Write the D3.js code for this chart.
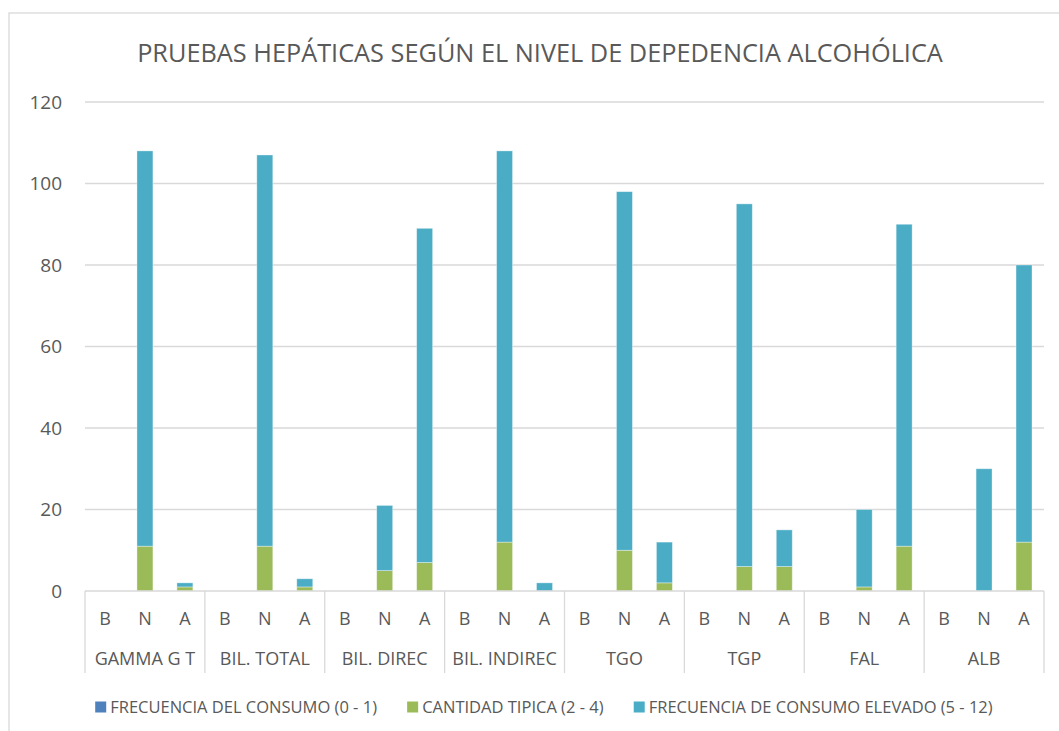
<!DOCTYPE html>
<html>
<head>
<meta charset="utf-8">
<script src="https://cdn.jsdelivr.net/npm/d3@7"></script>
<style>
	body { margin: 0; background: #fff; }
	text { font-family: "Open Sans", sans-serif; fill: #595959; }
</style>
</head>
<body>
<svg id="chart" width="1059" height="731"></svg>
<script>
// categories
var groups = ["GAMMA G T", "BIL. TOTAL", "BIL. DIREC", "BIL. INDIREC", "TGO", "TGP", "FAL", "ALB"];
var levels = ["B", "N", "A"];
var seriesNames = [
	"FRECUENCIA DEL CONSUMO (0 - 1)",
	"CANTIDAD TIPICA (2 - 4)",
	"FRECUENCIA DE CONSUMO ELEVADO (5 - 12)"
];
// values, in group order, B N A per group
var frecConsumo    = [0, 0, 0,  0, 0, 0,  0, 0, 0,   0, 0, 0,   0, 0, 0,   0, 0, 0,   0, 0, 0,   0, 0, 0];
var cantidadTipica = [0, 11, 1, 0, 11, 1, 0, 5, 7,   0, 12, 0,  0, 10, 2,  0, 6, 6,   0, 1, 11,  0, 0, 12];
var consumoElevado = [0, 97, 1, 0, 96, 2, 0, 16, 82, 0, 96, 2,  0, 88, 10, 0, 89, 9,  0, 19, 79, 0, 30, 68];
var yTicks = [0, 20, 40, 60, 80, 100, 120];

var Colors = ["#4F81BD", "#9BBB59", "#4BACC6"];
var keys = ["s0", "s1", "s2"];

var rows = [];
groups.forEach(function(g, gi) {
	levels.forEach(function(l, li) {
		var i = gi * 3 + li;
		rows.push({ group: g, level: l, s0: frecConsumo[i], s1: cantidadTipica[i], s2: consumoElevado[i] });
	});
});

var svg = d3.select("#chart");
var plotLeft = 85, plotRight = 1044, plotTop = 102, plotBase = 591;

// outer chart border
svg.append("rect")
	.attr("x", 9).attr("y", 13)
	.attr("width", 1070).attr("height", 740)
	.attr("fill", "none")
	.attr("stroke", "#d9d9d9")
	.attr("stroke-width", 1.3);

var x0 = d3.scaleBand().domain(groups).range([plotLeft, plotRight]);
var x1 = d3.scaleBand().domain(levels).range([0, x0.bandwidth()])
	.paddingInner(0.6).paddingOuter(0.3);
var y = d3.scaleLinear().domain([0, 120]).range([plotBase, plotTop]);

// gridlines
svg.append("g").selectAll("line")
	.data(yTicks.filter(function(d) { return d > 0; }))
	.enter().append("line")
		.attr("x1", plotLeft).attr("x2", plotRight)
		.attr("y1", function(d) { return y(d); })
		.attr("y2", function(d) { return y(d); })
		.attr("stroke", "#d9d9d9")
		.attr("stroke-width", 1.3);

// y labels
svg.append("g").selectAll("text")
	.data(yTicks)
	.enter().append("text")
		.attr("x", 62)
		.attr("y", function(d) { return y(d); })
		.attr("dy", "0.35em")
		.attr("text-anchor", "end")
		.style("font-size", "19px")
		.text(function(d) { return d; });

// bars
var stack = d3.stack().keys(keys)(rows);
svg.append("g").selectAll("g")
	.data(stack)
	.enter().append("g")
		.attr("fill", function(d, i) { return Colors[i]; })
	.selectAll("rect")
	.data(function(d) { return d.filter(function(p) { return p[1] - p[0] > 0; }); })
	.enter().append("rect")
		.attr("x", function(d) { return x0(d.data.group) + x1(d.data.level); })
		.attr("width", x1.bandwidth())
		.attr("y", function(d) { return y(d[1]); })
		.attr("height", function(d) { return y(d[0]) - y(d[1]); })
		.attr("stroke", "#fff")
		.attr("stroke-opacity", 0.45)
		.attr("stroke-width", 0.8);

// category axis
var axis = svg.append("g");
axis.append("line")
	.attr("x1", plotLeft).attr("x2", plotRight)
	.attr("y1", plotBase).attr("y2", plotBase)
	.attr("stroke", "#d9d9d9").attr("stroke-width", 1.3);

var bounds = groups.map(function(g) { return x0(g); }).concat([plotRight]);
axis.selectAll("line.div")
	.data(bounds)
	.enter().append("line")
		.attr("class", "div")
		.attr("x1", function(d) { return d; })
		.attr("x2", function(d) { return d; })
		.attr("y1", plotBase).attr("y2", 673)
		.attr("stroke", "#d9d9d9").attr("stroke-width", 1.3);

axis.selectAll("text.lvl")
	.data(rows)
	.enter().append("text")
		.attr("class", "lvl")
		.attr("x", function(d) { return x0(d.group) + x1(d.level) + x1.bandwidth() / 2; })
		.attr("y", 619)
		.attr("dy", "0.35em")
		.attr("text-anchor", "middle")
		.style("font-size", "18px")
		.text(function(d) { return d.level; });

axis.selectAll("text.grp")
	.data(groups)
	.enter().append("text")
		.attr("class", "grp")
		.attr("x", function(d) { return x0(d) + x0.bandwidth() / 2; })
		.attr("y", 659)
		.attr("dy", "0.35em")
		.attr("text-anchor", "middle")
		.style("font-size", "18px")
		.text(function(d) { return d; });

// title
var title = svg.append("text")
	.attr("x", 540)
	.attr("y", 62)
	.attr("text-anchor", "middle")
	.style("font-size", "22px")
	.text("PRUEBAS HEPÁTICAS SEGÚN EL NIVEL DE DEPEDENCIA ALCOHÓLICA");
var tw = title.node().getComputedTextLength();
title.style("font-size", (22 * 806 / tw) + "px");

// legend
var legend = svg.append("g");
var items = legend.selectAll("g")
	.data(seriesNames)
	.enter().append("g");
items.append("rect")
	.attr("width", 11).attr("height", 11)
	.attr("y", -5.5)
	.attr("fill", function(d, i) { return Colors[i]; });
items.append("text")
	.attr("x", 15)
	.attr("dy", "0.35em")
	.style("font-size", "16.5px")
	.text(function(d) { return d; });
var pos = 0, offs = [];
items.each(function() {
	offs.push(pos);
	pos += this.getBBox().width + 30;
});
pos -= 30;
var lx = 544 - pos / 2;
items.attr("transform", function(d, i) { return "translate(" + (lx + offs[i]) + ",707)"; });
</script>
</body>
</html>
